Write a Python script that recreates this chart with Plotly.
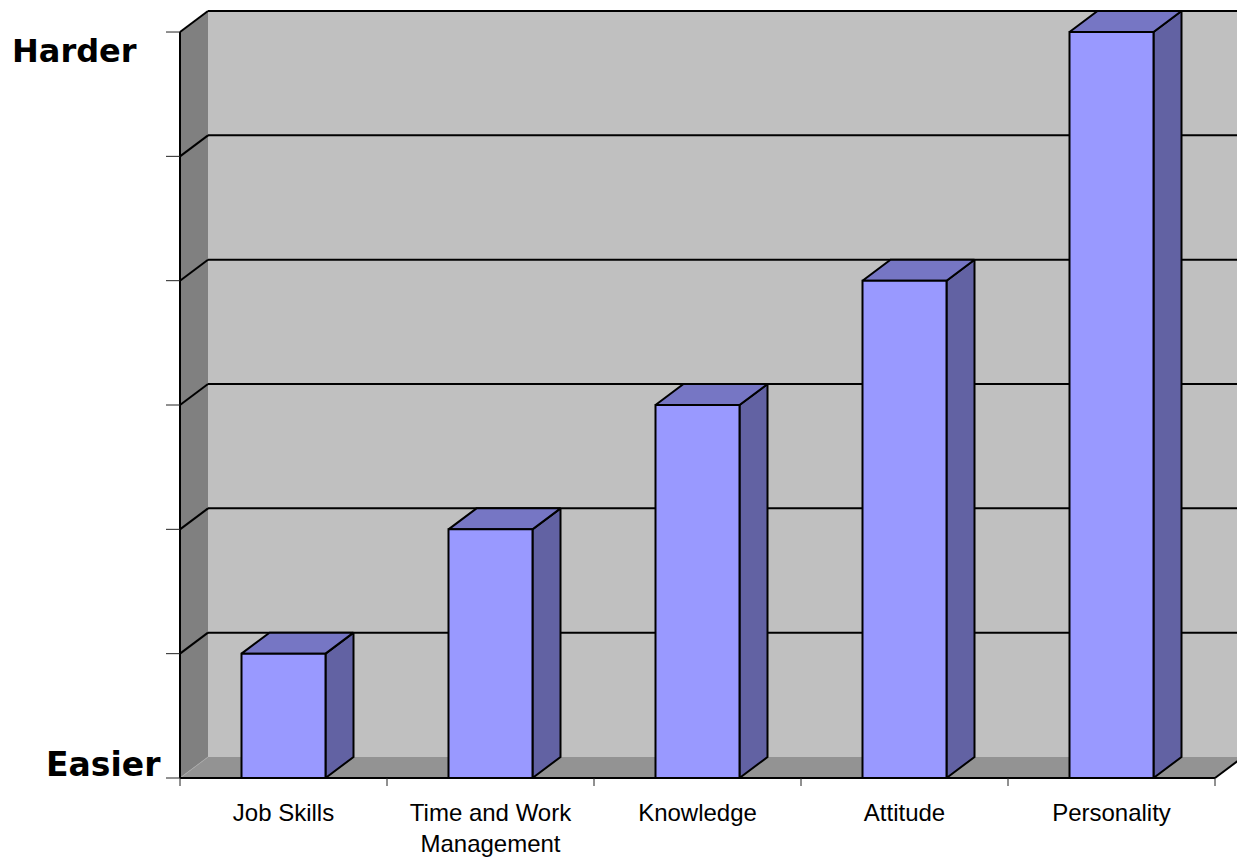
import plotly.graph_objects as go

# ---- data ----
categories = ["Job Skills", "Time and Work<br>Management", "Knowledge", "Attitude", "Personality"]
values = [1, 2, 3, 4, 6]
y_max = 6
y_tick_values = [0, 1, 2, 3, 4, 5, 6]
end_labels = ["Easier", "Harder"]

# ---- geometry (in axis units) ----
n = len(categories)
DX = 28 / 207.0        # depth offset along x (category units)
DY = 21 / 124.33       # depth offset along y (value units)
BAR_W = 84 / 207.0

WALL = "#C0C0C0"
SIDE_WALL = "#808080"
FLOOR = "#939393"
FRONT = "#9999FF"
TOP = "#7676C4"
SIDE = "#6262A3"

fig = go.Figure()


def poly(xs, ys, fill, line_color=None, width=0):
    fig.add_trace(go.Scatter(
        x=list(xs) + [xs[0]], y=list(ys) + [ys[0]], mode="lines",
        fill="toself", fillcolor=fill,
        line=dict(color=line_color or "rgba(0,0,0,0)", width=width),
        hoverinfo="skip", showlegend=False))


def seg(xs, ys, color="black", width=2):
    fig.add_trace(go.Scatter(x=xs, y=ys, mode="lines",
                             line=dict(color=color, width=width),
                             hoverinfo="skip", showlegend=False))


# back wall
poly([DX, n + DX, n + DX, DX], [DY, DY, y_max + DY, y_max + DY], WALL)
# left side wall
poly([0, DX, DX, 0], [0, DY, y_max + DY, y_max], SIDE_WALL)
# floor
poly([0, n, n + DX, DX], [0, 0, DY, DY], FLOOR)

# gridlines on back wall and side wall
for v in y_tick_values[1:]:
    seg([DX, n + DX], [v + DY, v + DY])
    seg([0, DX], [v, v + DY])
# side wall front edge
seg([0, 0], [0, y_max])
# floor edges
seg([0, DX], [0, DY], color="#A8A8A8", width=1)
seg([0, n], [0, 0])
seg([n, n + DX], [0, DY])

# bars
for i, val in enumerate(values):
    c = i + 0.5
    x0, x1 = c - BAR_W / 2, c + BAR_W / 2
    poly([x1, x1 + DX, x1 + DX, x1], [0, DY, val + DY, val], SIDE, "black", 2)
    poly([x0, x1, x1 + DX, x0 + DX], [val, val, val + DY, val + DY], TOP, "black", 2)
    poly([x0, x1, x1, x0], [0, 0, val, val], FRONT, "black", 2)

# value-axis tick marks
tick_len_x = 14 / 207.0
for v in y_tick_values:
    seg([-tick_len_x, 0], [v, v], color="#222222", width=1)
# category-axis tick marks
tick_len_y = 8 / 124.33
for k in range(n + 1):
    seg([k, k], [0, -tick_len_y], color="#222222", width=1)

W, H = 1237, 860
B = 70
x_range = [-180 / 207.0, (W - 180) / 207.0]
y_range = [(778 - (H - B)) / 124.33, 778 / 124.33]

label_font = dict(family="Liberation Sans Narrow, Arial Narrow, Liberation Sans, Arial", size=24, color="black")

fig.update_layout(
    width=W, height=H,
    margin=dict(l=0, r=0, t=0, b=B),
    paper_bgcolor="white", plot_bgcolor="white",
    hovermode=False,
    xaxis=dict(range=x_range, showgrid=False, zeroline=False, showline=False,
               tickmode="array", tickvals=[i + 0.5 for i in range(n)], ticktext=categories,
               ticks="outside", ticklen=1, tickcolor="rgba(0,0,0,0)",
               tickfont=label_font, fixedrange=True, automargin=False),
    yaxis=dict(range=y_range, showgrid=False, zeroline=False, showline=False,
               showticklabels=False, fixedrange=True, automargin=False),
    annotations=[
        dict(text="<b>%s</b>" % end_labels[1], xref="paper", yref="paper",
             x=10 / W, y=1 - 51 / (H - B), xanchor="left", yanchor="middle", showarrow=False,
             font=dict(family="DejaVu Sans", size=32, color="black")),
        dict(text="<b>%s</b>" % end_labels[0], xref="paper", yref="paper",
             x=163 / W, y=1 - 764 / (H - B), xanchor="right", yanchor="middle", showarrow=False,
             font=dict(family="DejaVu Sans", size=33, color="black")),
    ],
)

fig.write_html("out.html")
